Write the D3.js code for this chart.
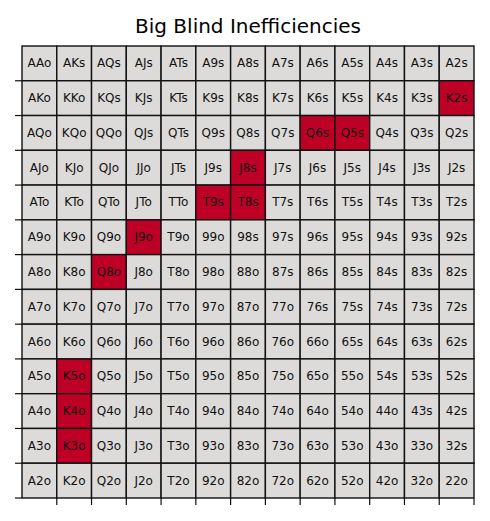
<!DOCTYPE html><html><head><script src="https://cdn.jsdelivr.net/npm/d3@7"></script>
<style>body{margin:0;background:#fff}</style></head><body><svg id="c" width="490" height="521"></svg>
<script>
const ranks=["A","K","Q","J","T","9","8","7","6","5","4","3","2"];
const highlighted=["K2s","Q6s","Q5s","J8s","T9s","T8s","J9o","Q8o","K5o","K4o","K3o"];
const title="Big Blind Inefficiencies";
const svg=d3.select("#c");
const x=d3.scaleBand().domain(d3.range(13)).range([22,474]);
const y=d3.scaleBand().domain(d3.range(13)).range([46,498]);
const cells=[];
for(let i=0;i<13;i++)for(let j=0;j<13;j++){
  const lab=j>i?ranks[i]+ranks[j]+"s":ranks[j]+ranks[i]+"o";
  cells.push({i,j,lab});
}
svg.append("text").attr("x",248).attr("y",33).attr("text-anchor","middle")
 .attr("font-family","DejaVu Sans").attr("font-size",20).text(title);
const g=svg.selectAll("g.cell").data(cells).enter().append("g");
g.append("rect").attr("x",d=>x(d.j)).attr("y",d=>y(d.i)).attr("width",x.bandwidth()).attr("height",y.bandwidth())
 .attr("fill",d=>highlighted.includes(d.lab)?"#be0027":"#dcdbd9").attr("stroke","#111").attr("stroke-width",1.4);
g.append("text").attr("x",d=>x(d.j)+x.bandwidth()/2).attr("y",d=>y(d.i)+y.bandwidth()/2+4)
 .attr("text-anchor","middle").attr("font-family","DejaVu Sans").attr("font-size",12).attr("fill","#111").text(d=>d.lab);
// ticks
const tk=svg.append("g").attr("stroke","#111").attr("stroke-width",1.2);
d3.range(1,14).forEach(k=>{
  tk.append("line").attr("x1",15).attr("x2",22).attr("y1",y(0)+k*y.bandwidth()).attr("y2",y(0)+k*y.bandwidth());
  tk.append("line").attr("y1",498).attr("y2",505).attr("x1",x(0)+k*x.bandwidth()).attr("x2",x(0)+k*x.bandwidth());
});
</script></body></html>
